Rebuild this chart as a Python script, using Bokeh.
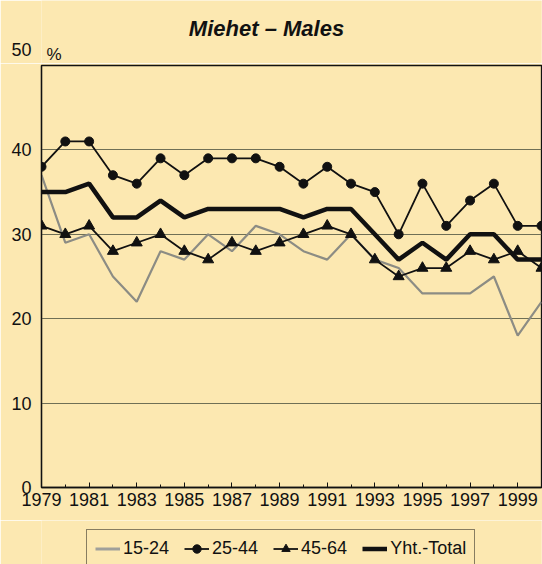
from bokeh.plotting import figure
from bokeh.models import Legend, LegendItem, Label, FixedTicker, Range1d
from bokeh.layouts import column
from bokeh.embed import file_html
from bokeh.resources import INLINE

years = list(range(1979, 2001))
age_15_24 = [37, 29, 30, 25, 22, 28, 27, 30, 28, 31, 30, 28, 27, 30, 27, 26, 23, 23, 23, 25, 18, 22]
age_25_44 = [38, 41, 41, 37, 36, 39, 37, 39, 39, 39, 38, 36, 38, 36, 35, 30, 36, 31, 34, 36, 31, 31]
age_45_64 = [31, 30, 31, 28, 29, 30, 28, 27, 29, 28, 29, 30, 31, 30, 27, 25, 26, 26, 28, 27, 28, 26]
total = [35, 35, 36, 32, 32, 34, 32, 33, 33, 33, 33, 32, 33, 33, 30, 27, 29, 27, 30, 30, 27, 27]

x_tick_years = [1979, 1981, 1983, 1985, 1987, 1989, 1991, 1993, 1995, 1997, 1999]
x_minor_years = [1980, 1982, 1984, 1986, 1988, 1990, 1992, 1994, 1996, 1998, 2000]
y_ticks = [0, 10, 20, 30, 40, 50]

series_names = ["15-24", "25-44", "45-64", "Yht.-Total"]
title_text = "Miehet \u2013 Males"
unit_text = "%"

BG = "#fce8b1"
INK = "#111111"
GRAY = "#8c8c84"
FONT = "Liberation Sans"
W = 542
LEFT, RIGHT = 41, 1
H_HEAD, H_MAIN, H_LEG = 63, 457, 44
PX_PER_UNIT = 422 / 50.0  # chart frame height / y span

# ---- header: title, unit and the raised "50" label (header y axis in chart units) ----
head_top = y_ticks[-1] + 48.5 / PX_PER_UNIT
head_bottom = head_top - H_HEAD / PX_PER_UNIT
head = figure(width=W, height=H_HEAD, output_backend="svg", toolbar_location=None,
              x_range=Range1d(LEFT, W - RIGHT), y_range=Range1d(head_bottom, head_top),
              title_location=None, x_axis_location=None, y_axis_location="left",
              min_border_left=LEFT, min_border_right=RIGHT, min_border_top=0, min_border_bottom=0)
head.background_fill_color = BG
head.border_fill_color = BG
head.outline_line_color = None
head.grid.visible = False
hy = head.yaxis[0]
hy.ticker = FixedTicker(ticks=[y_ticks[-1]])
hy.major_tick_in = 0
hy.major_tick_out = 0
hy.minor_tick_line_color = None
hy.axis_line_color = None
hy.major_label_text_font = FONT
hy.major_label_text_font_size = "18px"
hy.major_label_text_color = INK
hy.major_label_standoff = 10

head.add_layout(Label(x=266, y=head_top - 28 / PX_PER_UNIT, text=title_text, text_align="center",
                      text_baseline="middle", text_font=FONT,
                      text_font_style="bold italic", text_font_size="22px", text_color=INK))
head.add_layout(Label(x=LEFT, y=head_top - 54 / PX_PER_UNIT, x_offset=5, text=unit_text,
                      text_align="left", text_baseline="middle",
                      text_font=FONT, text_font_size="17px", text_color=INK))

# ---- main chart ----
p = figure(width=W, height=H_MAIN, output_backend="svg", toolbar_location=None,
           x_range=(1979, 2000), y_range=(0, 50), title_location=None,
           min_border_left=LEFT, min_border_right=RIGHT, min_border_top=2, min_border_bottom=33)
p.background_fill_color = BG
p.border_fill_color = BG
p.outline_line_color = INK
p.outline_line_width = 1.3

p.xgrid.visible = False
p.ygrid.grid_line_color = "#6f6f55"
p.ygrid.grid_line_width = 1
p.ygrid.ticker = FixedTicker(ticks=y_ticks)

xa = p.xaxis[0]
xa.ticker = FixedTicker(ticks=x_tick_years, minor_ticks=x_minor_years)
xa.major_tick_in = 5
xa.major_tick_out = 0
xa.minor_tick_in = 3
xa.minor_tick_out = 0
xa.axis_line_color = INK
xa.axis_line_width = 1.3
xa.major_tick_line_color = INK
xa.minor_tick_line_color = INK
xa.major_label_text_font = FONT
xa.major_label_text_font_size = "18px"
xa.major_label_text_color = INK
xa.major_label_standoff = 5

ya = p.yaxis[0]
ya.ticker = FixedTicker(ticks=y_ticks[:-1])
ya.major_tick_in = 0
ya.major_tick_out = 0
ya.minor_tick_line_color = None
ya.axis_line_color = INK
ya.axis_line_width = 1.3
ya.major_label_text_font = FONT
ya.major_label_text_font_size = "18px"
ya.major_label_text_color = INK
ya.major_label_standoff = 10

p.line(years, age_15_24, line_color=GRAY, line_width=2.2)
p.line(years, age_25_44, line_color=INK, line_width=1.8)
p.scatter(years, age_25_44, marker="circle", size=9, fill_color=INK, line_color=INK)
p.line(years, age_45_64, line_color=INK, line_width=1.8)
p.scatter(years, age_45_64, marker="triangle", size=11, fill_color=INK, line_color=INK)
p.line(years, total, line_color=INK, line_width=4.5)

# ---- legend strip (same series, outside its visible range; only the legend shows) ----
leg = figure(width=W, height=H_LEG, output_backend="svg", toolbar_location=None,
             x_range=Range1d(0, 1), y_range=Range1d(0, 1), title_location=None,
             x_axis_location=None, y_axis_location=None,
             min_border_left=LEFT, min_border_right=RIGHT, min_border_top=0, min_border_bottom=0)
leg.background_fill_color = BG
leg.border_fill_color = BG
leg.outline_line_color = None
leg.grid.visible = False
l1 = leg.line(years, age_15_24, line_color="#a0a09a", line_width=3)
l2 = leg.line(years, age_25_44, line_color=INK, line_width=1.8)
l2m = leg.scatter(years, age_25_44, marker="circle", size=8, fill_color=INK, line_color=INK)
l3 = leg.line(years, age_45_64, line_color=INK, line_width=1.8)
l3m = leg.scatter(years, age_45_64, marker="triangle", size=10, fill_color=INK, line_color=INK)
l4 = leg.line(years, total, line_color=INK, line_width=4.5)

legend = Legend(items=[
    LegendItem(label=series_names[0], renderers=[l1]),
    LegendItem(label=series_names[1], renderers=[l2, l2m]),
    LegendItem(label=series_names[2], renderers=[l3, l3m]),
    LegendItem(label=series_names[3], renderers=[l4]),
], orientation="horizontal", location=(45, -4))
legend.label_text_font = FONT
legend.label_text_font_size = "18px"
legend.label_text_color = INK
legend.label_height = 21
legend.glyph_width = 25
legend.glyph_height = 21
legend.label_standoff = 3
legend.spacing = 15
legend.padding = 8
legend.margin = 0
legend.border_line_color = INK
legend.border_line_width = 1.5
legend.background_fill_color = BG
legend.background_fill_alpha = 1
leg.add_layout(legend, "center")

layout = column(head, p, leg, spacing=0)

open("out.html", "w").write(file_html(layout, INLINE))
